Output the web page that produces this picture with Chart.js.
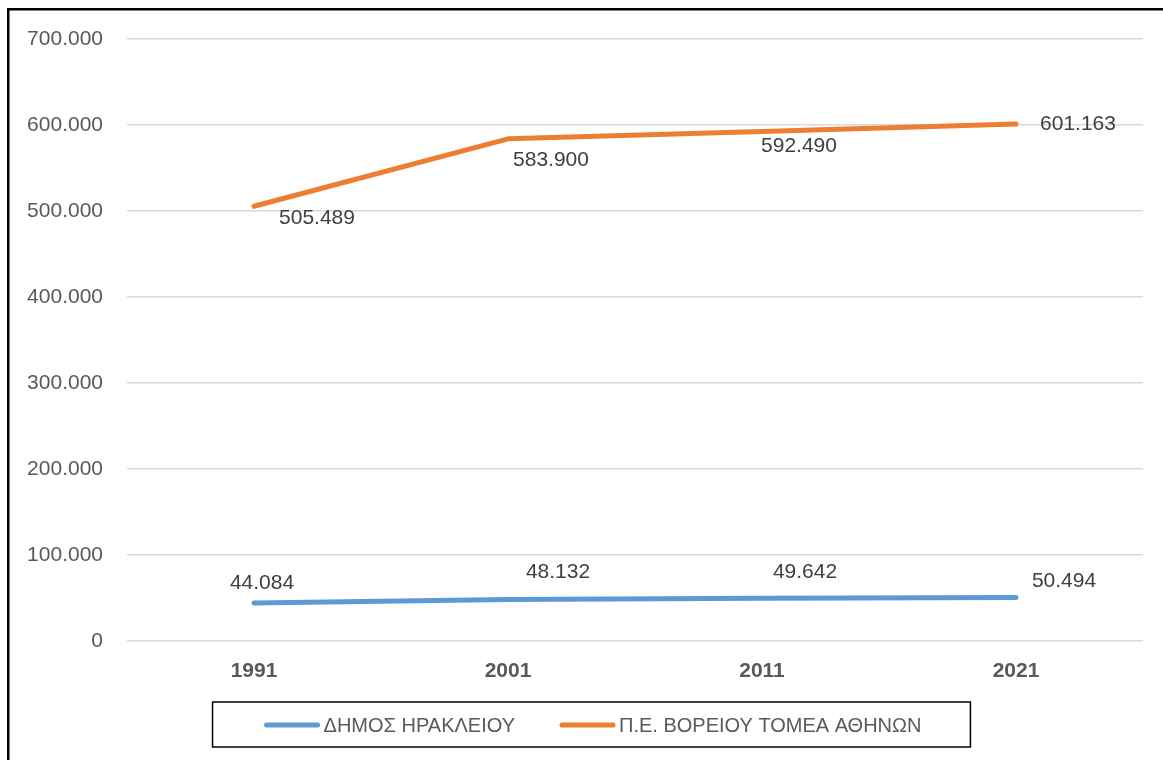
<!DOCTYPE html>
<html>
<head>
<meta charset="utf-8">
<script src="https://cdn.jsdelivr.net/npm/chart.js@4.4.1/dist/chart.umd.min.js"></script>
<style>
  html, body { margin: 0; padding: 0; background: #fff; overflow: hidden; }
  canvas { display: block; }
</style>
</head>
<body>
<canvas id="chart" width="1163" height="760"></canvas>
<script>
const years = ['1991', '2001', '2011', '2021']
const iraklioValues = [44084, 48132, 49642, 50494]
const athensNorthValues = [505489, 583900, 592490, 601163]
const seriesNames = ['ΔΗΜΟΣ ΗΡΑΚΛΕΙΟΥ', 'Π.Ε. ΒΟΡΕΙΟΥ ΤΟΜΕΑ ΑΘΗΝΩΝ']

// label offsets (px) from the point, like the hand-placed labels in the original
const labelOffsets = [
  [[8, -20], [50, -27], [43, -26], [48, -16]],
  [[63, 12], [43, 21], [37, 15], [62, 0]],
]

const FONT = '"Liberation Sans", Arial, sans-serif'

function fmt(v) {
  return String(v).replace(/\B(?=(\d{3})+(?!\d))/g, '.')
}

const valueLabels = {
  id: 'valueLabels',
  afterDatasetsDraw(chart) {
    const ctx = chart.ctx
    ctx.save()
    ctx.font = '21px ' + FONT
    ctx.fillStyle = '#404040'
    ctx.textAlign = 'center'
    ctx.textBaseline = 'middle'
    chart.data.datasets.forEach((ds, i) => {
      chart.getDatasetMeta(i).data.forEach((pt, j) => {
        const off = labelOffsets[i][j]
        ctx.fillText(fmt(ds.data[j]), pt.x + off[0], pt.y + off[1])
      })
    })
    ctx.restore()
  },
}

// outer frame + boxed legend under the axis
const frame = {
  id: 'frame',
  afterDraw(chart) {
    const ctx = chart.ctx
    ctx.save()
    ctx.fillStyle = '#000'
    ctx.fillRect(7, 8, chart.width, 2.5)
    ctx.fillRect(7, 8, 2.5, chart.height)

    const lineLen = 55
    const gap = 4
    const itemGap = 45
    const midY = 725
    ctx.font = '20px ' + FONT
    const sets = chart.data.datasets
    const widths = sets.map((ds) => ctx.measureText(ds.label).width)
    let total = 0
    widths.forEach((w, i) => {
      total += lineLen + gap + w + (i < widths.length - 1 ? itemGap : 0)
    })
    let x = 593 - total / 2
    const start = x
    sets.forEach((ds, i) => {
      ctx.strokeStyle = ds.borderColor
      ctx.lineWidth = 5
      ctx.lineCap = 'round'
      ctx.beginPath()
      ctx.moveTo(x + 2, midY)
      ctx.lineTo(x + lineLen - 2, midY)
      ctx.stroke()
      x += lineLen + gap
      ctx.fillStyle = '#595959'
      ctx.textAlign = 'left'
      ctx.textBaseline = 'middle'
      ctx.fillText(ds.label, x, midY + 1)
      x += widths[i] + itemGap
    })
    const end = x - itemGap
    ctx.strokeStyle = '#000'
    ctx.lineWidth = 1.5
    ctx.strokeRect(start - 52, midY - 23, end - start + 52 + 49, 45)
    ctx.restore()
  },
}

new Chart(document.getElementById('chart'), {
  type: 'line',
  data: {
    labels: years,
    datasets: [
      {
        label: seriesNames[0],
        data: iraklioValues,
        borderColor: '#5B9BD5',
        backgroundColor: '#5B9BD5',
        borderWidth: 5,
        borderCapStyle: 'round',
        borderJoinStyle: 'round',
        pointRadius: 0,
        fill: false,
        tension: 0,
      },
      {
        label: seriesNames[1],
        data: athensNorthValues,
        borderColor: '#ED7D31',
        backgroundColor: '#ED7D31',
        borderWidth: 5,
        borderCapStyle: 'round',
        borderJoinStyle: 'round',
        pointRadius: 0,
        fill: false,
        tension: 0,
      },
    ],
  },
  options: {
    responsive: false,
    animation: false,
    devicePixelRatio: 1,
    layout: { padding: { left: 0, right: 20, top: 39, bottom: 55 } },
    scales: {
      x: {
        offset: true,
        grid: { display: false },
        border: { display: false },
        ticks: {
          color: '#595959',
          font: { family: FONT, size: 21, weight: 'bold' },
          padding: 10,
        },
        afterFit(scale) {
          scale.height = 64
        },
      },
      y: {
        min: 0,
        max: 700000,
        border: { display: false },
        grid: { color: '#d9d9d9', lineWidth: 1.5, drawTicks: false },
        ticks: {
          stepSize: 100000,
          color: '#595959',
          font: { family: FONT, size: 21 },
          padding: 24,
          callback: (v) => fmt(v),
        },
        afterFit(scale) {
          scale.width = 127
        },
      },
    },
    plugins: {
      tooltip: { enabled: false },
      legend: { display: false },
    },
  },
  plugins: [valueLabels, frame],
})
</script>
</body>
</html>
